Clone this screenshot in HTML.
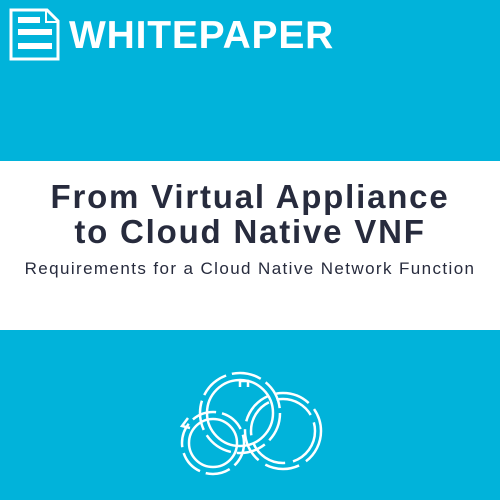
<!DOCTYPE html>
<html><head><style>
body{margin:0;width:500px;height:500px;background:#01b3da;position:relative;overflow:hidden;font-family:"Liberation Sans",sans-serif}
.band{position:absolute;left:0;top:161px;width:500px;height:169px;background:#fff}
.t{position:absolute;left:0;width:500px;text-align:center;color:#272b3d;font-weight:bold;font-size:33px;line-height:36px;letter-spacing:1.8px}
.s{position:absolute;left:0;width:500px;text-align:center;color:#272b3d;font-size:17px;top:259px;letter-spacing:1.4px}
.wp{position:absolute;left:69px;top:14px;color:#fff;font-weight:bold;font-size:39px;letter-spacing:0.8px}
</style></head><body>
<svg style="position:absolute;left:0;top:0" width="70" height="70">
<path d="M11 10 H47 L58 21 V59 H11 Z" fill="none" stroke="#fff" stroke-width="3"/>
<path d="M46 10 V22 H58" fill="none" stroke="#fff" stroke-width="2"/>
<rect x="18" y="17" width="22" height="6" fill="#fff"/>
<rect x="18" y="29" width="34" height="6" fill="#fff"/>
<rect x="18" y="43" width="34" height="6" fill="#fff"/>
</svg>
<div class="wp">WHITEPAPER</div>
<div class="band"></div>
<div class="t" style="top:179px">From Virtual Appliance</div>
<div class="t" style="top:214px">to Cloud Native VNF</div>
<div class="s">Requirements for a Cloud Native Network Function</div>
<svg style="position:absolute;left:0;top:0" width="500" height="500" fill="none" stroke="#fff" stroke-width="2.5">
<g transform="translate(0,6)">
<circle cx="240" cy="407" r="33"/>
<circle cx="240" cy="407" r="40" stroke-dasharray="30 6"/>
<circle cx="213" cy="437" r="24"/>
<circle cx="213" cy="437" r="31" stroke-dasharray="25 6"/>
<circle cx="283" cy="425" r="32" stroke-dasharray="40 8"/>
<circle cx="283" cy="425" r="38" stroke-dasharray="35 8"/>
<path d="M240 381 v-6 h8 v6" />
<path d="M188 412 l-6 8 l8 2"/>
</g>
</svg>
</body></html>
